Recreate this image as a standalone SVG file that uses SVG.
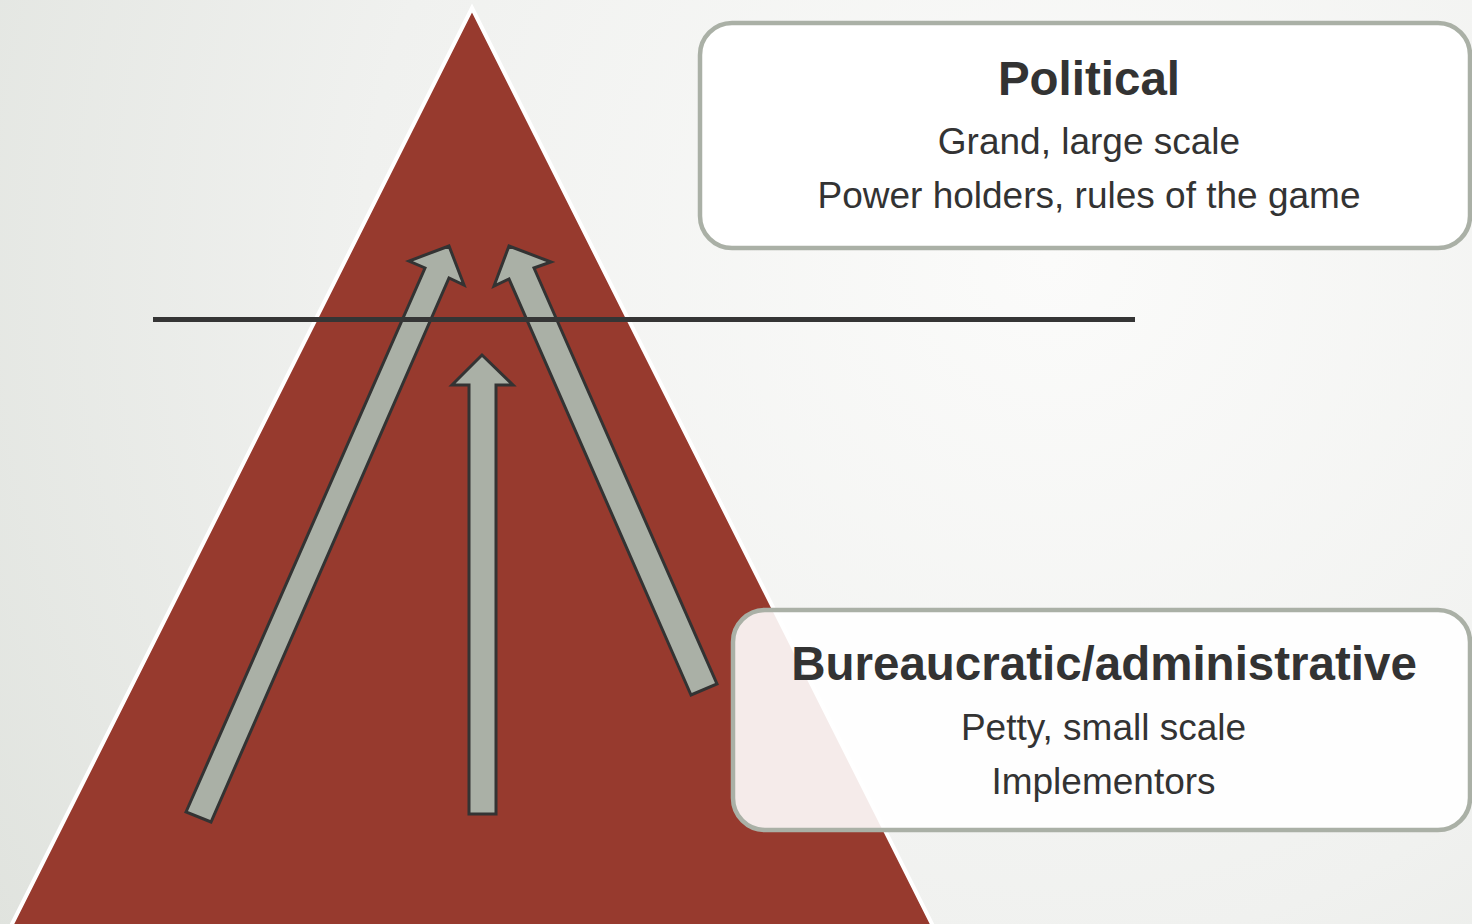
<svg xmlns="http://www.w3.org/2000/svg" width="1472" height="924" viewBox="0 0 1472 924">
  <defs>
    <radialGradient id="bg" cx="1050" cy="260" r="1250" gradientUnits="userSpaceOnUse">
      <stop offset="0" stop-color="#fbfbfa"/>
      <stop offset="0.55" stop-color="#f0f1ef"/>
      <stop offset="1" stop-color="#e0e3de"/>
    </radialGradient>
  </defs>
  <style>
    .arrow { fill: #aab0a6; stroke: #333333; stroke-width: 3; stroke-linejoin: miter; }
    .box { stroke: #aab0a6; stroke-width: 4.5; }
    .title { font-family: "Liberation Sans", Arial, sans-serif; font-weight: bold; font-size: 47.5px; fill: #333333; text-anchor: middle; }
    .sub { font-family: "Liberation Sans", Arial, sans-serif; font-size: 37px; fill: #333333; text-anchor: middle; }
  </style>

  <!-- background -->
  <rect x="0" y="0" width="1472" height="924" fill="url(#bg)"/>

  <!-- pyramid -->
  <g id="pyramid">
    <polygon points="472,8 936,932 8,932" fill="#973a2e" stroke="#ffffff" stroke-width="4" stroke-linejoin="miter"/>
  </g>

  <!-- upward arrows and divider -->
  <g id="connectors">
    <polygon class="arrow" points="186,812 425,268 409,261 449,246 464,285 449,278 211,822"/>
    <polygon class="arrow" points="469,814 469,385 452,385 482,355 513,385 496,385 496,814"/>
    <polygon class="arrow" points="691,695 509,279 494,286 509,246 551,262 534,268 717,684"/>
    <line x1="153" y1="319.5" x2="1135" y2="319.5" stroke="#353535" stroke-width="5"/>
  </g>

  <!-- political level -->
  <g id="political">
    <rect class="box" x="700" y="23" width="770" height="225" rx="32" ry="32" fill="#ffffff"/>
    <text class="title" x="1089" y="95">Political</text>
    <text class="sub" x="1089" y="154">Grand, large scale</text>
    <text class="sub" x="1089" y="208">Power holders, rules of the game</text>
  </g>

  <!-- bureaucratic level -->
  <g id="bureaucratic">
    <rect class="box" x="733" y="610" width="737" height="220" rx="32" ry="32" fill="#ffffff" fill-opacity="0.9"/>
    <text class="title" x="1104" y="680">Bureaucratic/administrative</text>
    <text class="sub" x="1103.5" y="740">Petty, small scale</text>
    <text class="sub" x="1103.5" y="794">Implementors</text>
  </g>
</svg>
